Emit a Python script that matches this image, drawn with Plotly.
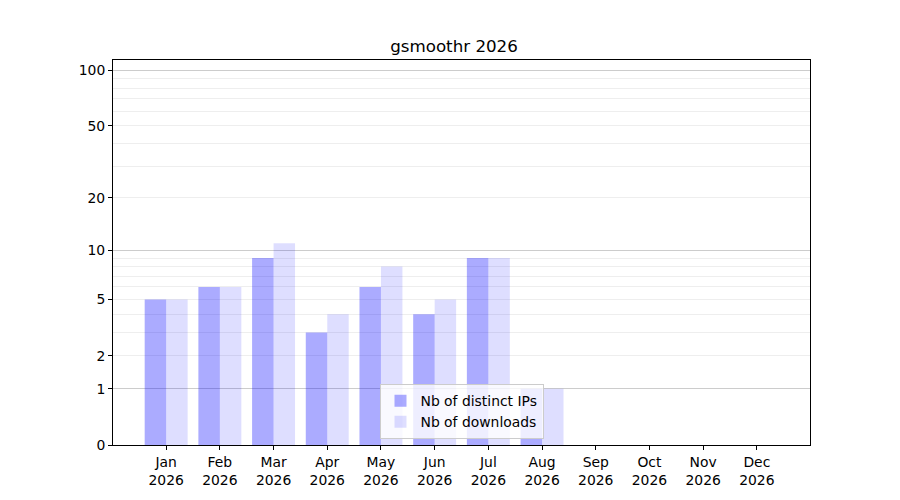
import numpy as np
import plotly.graph_objects as go

# monthly stats
months = ["Jan", "Feb", "Mar", "Apr", "May", "Jun", "Jul", "Aug", "Sep", "Oct", "Nov", "Dec"]
year = "2026"
distinct_ips = [5, 6, 9, 3, 6, 4, 9, 1, 0, 0, 0, 0]
downloads = [5, 6, 11, 4, 8, 5, 9, 1, 0, 0, 0, 0]

# y axis is log10(1 + n)
y_ticks = [0, 1, 2, 5, 10, 20, 50, 100]
y_major_grid = [1, 10, 100]
y_minor_grid = [2, 3, 4, 5, 6, 7, 8, 9, 20, 30, 40, 50, 60, 70, 80, 90]
y_max = 113.5


def tr(v):
    return np.log10(1 + np.asarray(v, dtype=float))


x = list(range(len(months)))
font = "DejaVu Sans, Liberation Sans, sans-serif"

fig = go.Figure()
fig.add_trace(go.Bar(x=x, y=tr(distinct_ips), name="Nb of distinct IPs",
                     marker=dict(color="rgba(0,0,255,0.33)", line=dict(width=0)),
                     customdata=distinct_ips, hovertemplate="%{customdata}"))
fig.add_trace(go.Bar(x=x, y=tr(downloads), name="Nb of downloads",
                     marker=dict(color="rgba(0,0,255,0.13)", line=dict(width=0)),
                     customdata=downloads, hovertemplate="%{customdata}"))
# invisible trace to carry the major-grid axis
fig.add_trace(go.Scatter(x=[0], y=[0], yaxis="y2", mode="markers",
                         marker=dict(opacity=0), showlegend=False, hoverinfo="skip"))

yrange = [0, float(tr(y_max))]

# page body adds an 8px offset, so the figure is 892x492
fig.update_layout(
    width=892, height=492,
    margin=dict(l=105, r=90, t=52, b=55),
    paper_bgcolor="white", plot_bgcolor="white",
    font=dict(family=font, size=13.9, color="black"),
    title=dict(text="gsmoothr 2026", x=0.5, xanchor="center", y=0.922, yanchor="middle",
               font=dict(size=16.7)),
    barmode="group", bargap=0.2, bargroupgap=0,
    xaxis=dict(
        range=[-0.99, 11.99],
        tickmode="array", tickvals=x,
        ticktext=[f"{m}<br>{year}" for m in months],
        ticks="outside", ticklen=4, tickcolor="black",
        showline=True, linecolor="black", linewidth=1, mirror=True,
        showgrid=False, zeroline=False,
    ),
    yaxis=dict(
        range=yrange,
        tickmode="array", tickvals=tr(y_ticks), ticktext=[str(v) for v in y_ticks],
        ticks="outside", ticklen=4, tickcolor="black",
        showline=True, linecolor="black", linewidth=1, mirror=True,
        showgrid=False, zeroline=False,
        minor=dict(tickmode="array", tickvals=tr(y_minor_grid), showgrid=True,
                   gridcolor="#eeeeee", gridwidth=1, ticks=""),
    ),
    yaxis2=dict(
        overlaying="y", side="left", range=yrange,
        tickmode="array", tickvals=tr(y_major_grid),
        showticklabels=False, ticks="",
        showgrid=True, gridcolor="#cccccc", gridwidth=1,
        showline=False, zeroline=False,
    ),
    legend=dict(
        x=0.5, xanchor="center", y=0.015, yanchor="bottom",
        bgcolor="rgba(255,255,255,0.8)", bordercolor="#cccccc", borderwidth=1,
        font=dict(size=13.9), tracegroupgap=0,
    ),
    showlegend=True,
)

fig.write_html("out.html")
